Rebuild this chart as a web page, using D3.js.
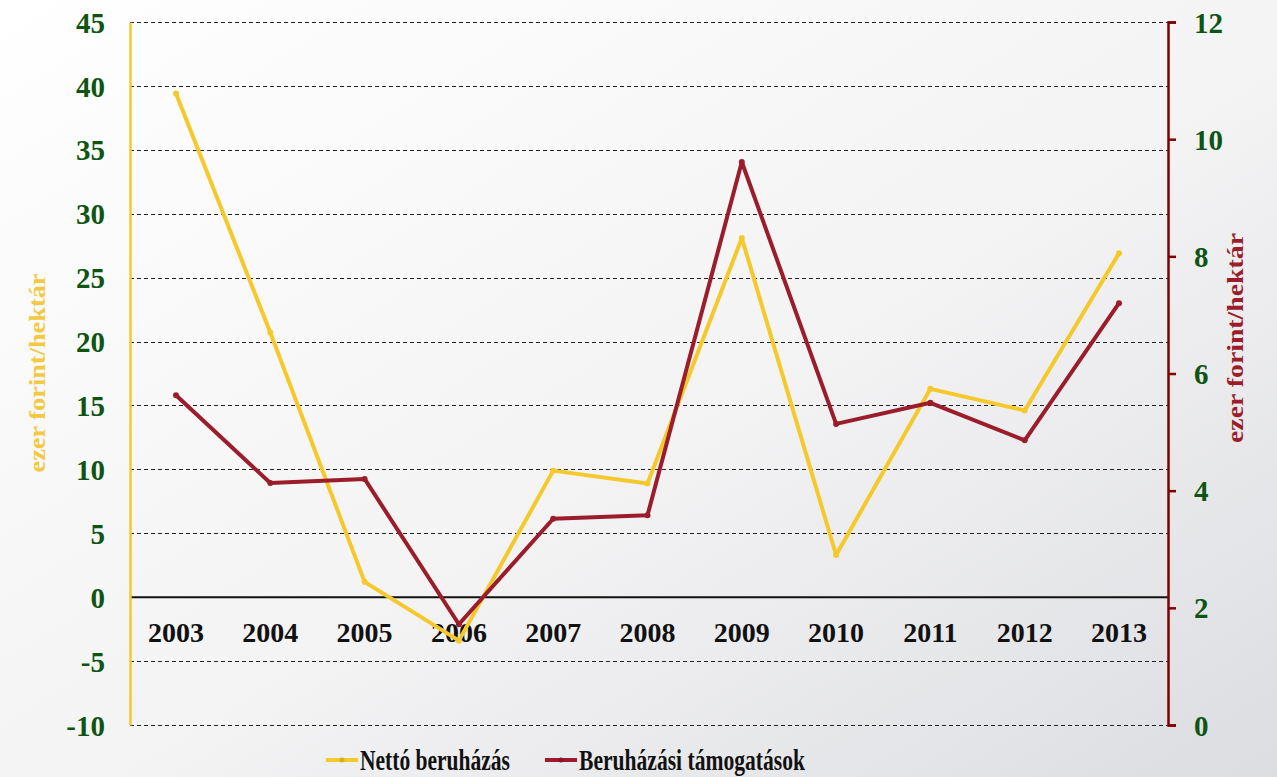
<!DOCTYPE html>
<html>
<head>
<meta charset="utf-8">
<script src="https://cdn.jsdelivr.net/npm/d3@7"></script>
<style>
  html, body { margin: 0; padding: 0; }
  body { width: 1277px; height: 777px; overflow: hidden; }
  svg text { font-family: "Liberation Serif", "Times New Roman", Tinos, "DejaVu Serif", serif; font-weight: bold; }
</style>
</head>
<body>
<svg id="chart" width="1277" height="777"></svg>
<script>
'use strict';

// data
var years = ['2003', '2004', '2005', '2006', '2007', '2008', '2009', '2010', '2011', '2012', '2013'];
var netto = [39.4, 20.7, 1.2, -3.4, 9.9, 8.9, 28.1, 3.3, 16.3, 14.6, 26.9];      // left axis
var tamogatas = [5.63, 4.13, 4.2, 1.72, 3.52, 3.58, 9.61, 5.14, 5.5, 4.86, 7.2]; // right axis
var leftTicks = [-10, -5, 0, 5, 10, 15, 20, 25, 30, 35, 40, 45];
var rightTicks = [0, 2, 4, 6, 8, 10, 12];
var seriesNames = ['Nettó beruházás', 'Beruházási támogatások'];

var YELLOW = '#f5c92c', RED = '#9b1d2b', AXRED = '#800000', GREEN = '#0e5514';
var FONT = '"Liberation Serif", "Times New Roman", Tinos, "DejaVu Serif", serif';

var svg = d3.select('#chart');

// background gradient
var defs = svg.append('defs');
var grad = defs.append('linearGradient').attr('id', 'bg')
  .attr('x1', '0%').attr('y1', '0%').attr('x2', '100%').attr('y2', '100%');
grad.append('stop').attr('offset', '0%').attr('stop-color', '#ffffff');
grad.append('stop').attr('offset', '55%').attr('stop-color', '#f3f3f4');
grad.append('stop').attr('offset', '100%').attr('stop-color', '#dcdde1');
svg.append('rect').attr('width', 1277).attr('height', 777).attr('fill', 'url(#bg)');

var plotL = 130, plotR = 1168, plotT = 22, plotB = 725;

var x = d3.scalePoint().domain(years).range([176, 1119]);
var yL = d3.scaleLinear().domain([-10, 45]).range([plotB, plotT]);
var yR = d3.scaleLinear().domain([0, 12]).range([plotB, plotT]);

// gridlines
svg.append('g').selectAll('line')
  .data(leftTicks.filter(function(d) { return d !== 0; }))
  .enter().append('line')
  .attr('x1', plotL).attr('x2', plotR)
  .attr('y1', function(d) { return Math.round(yL(d)) + 0.5; })
  .attr('y2', function(d) { return Math.round(yL(d)) + 0.5; })
  .attr('stroke', '#222').attr('stroke-width', 1).attr('stroke-dasharray', '4,3');

// zero line
svg.append('line')
  .attr('x1', plotL).attr('x2', plotR)
  .attr('y1', yL(0)).attr('y2', yL(0))
  .attr('stroke', '#111').attr('stroke-width', 2);

// left axis
var axL = svg.append('g').attr('transform', 'translate(' + plotL + ',0)')
  .call(d3.axisLeft(yL).tickValues(leftTicks).tickSize(0).tickPadding(25)
    .tickFormat(function(d) { return String(d); }));
axL.attr('font-family', null);
axL.select('.domain').attr('stroke', YELLOW).attr('stroke-width', 2.5);
axL.selectAll('text').attr('fill', GREEN).style('font-size', '29px')
  .style('font-family', FONT).attr('dy', '0.35em');

// right axis
var axR = svg.append('g').attr('transform', 'translate(' + plotR + ',0)')
  .call(d3.axisRight(yR).tickValues(rightTicks).tickSize(8).tickPadding(18)
    .tickFormat(function(d) { return String(d); }));
axR.attr('font-family', null);
axR.select('.domain').attr('stroke', AXRED).attr('stroke-width', 2.5);
axR.selectAll('.tick line').attr('stroke', AXRED).attr('stroke-width', 2.5);
axR.selectAll('text').attr('fill', GREEN).style('font-size', '29px')
  .style('font-family', FONT).attr('dy', '0.35em');

// year labels
svg.append('g').selectAll('text')
  .data(years).enter().append('text')
  .attr('x', function(d) { return x(d); })
  .attr('y', 642)
  .attr('text-anchor', 'middle')
  .attr('fill', '#111')
  .style('font-size', '28px')
  .text(function(d) { return d; });

// lines
var lineL = d3.line().x(function(d, i) { return x(years[i]); }).y(function(d) { return yL(d); });
var lineR = d3.line().x(function(d, i) { return x(years[i]); }).y(function(d) { return yR(d); });

svg.append('path').datum(netto)
  .attr('d', lineL).attr('fill', 'none')
  .attr('stroke', YELLOW).attr('stroke-width', 4).attr('stroke-linejoin', 'round');
svg.append('g').selectAll('circle').data(netto).enter().append('circle')
  .attr('cx', function(d, i) { return x(years[i]); })
  .attr('cy', function(d) { return yL(d); })
  .attr('r', 3).attr('fill', YELLOW);

svg.append('path').datum(tamogatas)
  .attr('d', lineR).attr('fill', 'none')
  .attr('stroke', RED).attr('stroke-width', 4).attr('stroke-linejoin', 'round');
svg.append('g').selectAll('circle').data(tamogatas).enter().append('circle')
  .attr('cx', function(d, i) { return x(years[i]); })
  .attr('cy', function(d) { return yR(d); })
  .attr('r', 3).attr('fill', RED);

// axis titles (rotated)
svg.append('text')
  .attr('transform', 'translate(45,373) rotate(-90)')
  .attr('text-anchor', 'middle').attr('fill', '#f3c842')
  .attr('textLength', 199).attr('lengthAdjust', 'spacingAndGlyphs')
  .style('font-size', '23px')
  .text('ezer forint/hektár');
svg.append('text')
  .attr('transform', 'translate(1243,338) rotate(-90)')
  .attr('text-anchor', 'middle').attr('fill', RED)
  .attr('textLength', 210).attr('lengthAdjust', 'spacingAndGlyphs')
  .style('font-size', '24px')
  .text('ezer forint/hektár');

// legend (text is horizontally squeezed in the original)
var legend = svg.append('g');
var legX = [326, 545];
var legW = [150, 226];
[YELLOW, RED].forEach(function(c, i) {
  legend.append('line')
    .attr('x1', legX[i]).attr('x2', legX[i] + 32)
    .attr('y1', 760).attr('y2', 760)
    .attr('stroke', c).attr('stroke-width', 4);
  legend.append('circle')
    .attr('cx', legX[i] + 16).attr('cy', 760).attr('r', 2.5)
    .attr('fill', d3.color(c).darker(0.4));
  legend.append('text')
    .attr('x', legX[i] + 34).attr('y', 770)
    .attr('fill', '#111')
    .attr('textLength', legW[i]).attr('lengthAdjust', 'spacingAndGlyphs')
    .style('font-size', '29px')
    .text(seriesNames[i]);
});
</script>
</body>
</html>
